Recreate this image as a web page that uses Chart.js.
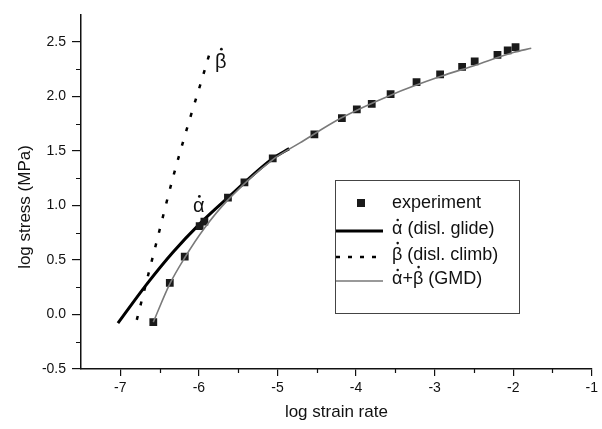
<!DOCTYPE html>
<html>
<head>
<meta charset="utf-8">
<script src="https://cdn.jsdelivr.net/npm/chart.js@4.4.0/dist/chart.umd.min.js"></script>
<style>
  html, body { margin: 0; padding: 0; background: #fff; }
</style>
</head>
<body>
<canvas id="chart" width="602" height="429"></canvas>
<script>
const FONT = '"Liberation Sans", Arial, sans-serif';

// experiment (squares)
const expX = [-6.58, -6.37, -6.18, -5.99, -5.93, -5.63, -5.42, -5.06, -4.53, -4.18, -3.99, -3.80, -3.56, -3.23, -2.93, -2.65, -2.49, -2.20, -2.07, -1.97];
const expY = [-0.07, 0.29, 0.53, 0.81, 0.85, 1.07, 1.21, 1.43, 1.65, 1.80, 1.88, 1.93, 2.02, 2.13, 2.20, 2.27, 2.32, 2.38, 2.42, 2.45];

// alpha dot (disl. glide)
const glideX = [-7.03, -6.66, -6.33, -5.99, -5.63, -5.06, -4.85];
const glideY = [-0.08, 0.28, 0.57, 0.83, 1.07, 1.43, 1.52];

// beta dot (disl. climb)
const climbX = [-6.79, -6.54, -6.32, -6.12, -5.98, -5.84];
const climbY = [-0.05, 0.66, 1.28, 1.78, 2.11, 2.45];

// alpha + beta (GMD)
const gmdX = [-6.58, -6.37, -6.18, -5.93, -5.63, -5.06, -4.72, -4.19, -3.56, -2.93, -2.5, -2.0, -1.77];
const gmdY = [-0.07, 0.28, 0.52, 0.79, 1.05, 1.42, 1.57, 1.80, 2.01, 2.18, 2.28, 2.40, 2.44];

const xTicks = [-7, -6, -5, -4, -3, -2, -1];
const yTicks = [-0.5, 0, 0.5, 1, 1.5, 2, 2.5];
const xMinor = [-6.5, -5.5, -4.5, -3.5, -2.5, -1.5];
const yMinor = [-0.25, 0.25, 0.75, 1.25, 1.75, 2.25];

// "\u0307" marks a dot over the char before it (drawn by hand, fonts place it badly)
const DOT = "\u0307";
const legendLabels = ["experiment", "\u03B1" + DOT + " (disl. glide)", "\u03B2" + DOT + " (disl. climb)", "\u03B1" + DOT + "+\u03B2" + DOT + " (GMD)"];
const yTitle = "log stress (MPa)";
const xTitle = "log strain rate";

function pts(xs, ys) {
  return xs.map((x, i) => ({ x: x, y: ys[i] }));
}

// draws text (left aligned, middle baseline) and puts dots over marked chars
function dottedText(ctx, text, x, y, size) {
  const plain = text.split(DOT).join("");
  ctx.fillText(plain, x, y);
  let prefix = "";
  for (let i = 0; i < text.length; i++) {
    const ch = text[i];
    if (ch === DOT) continue;
    if (text[i + 1] === DOT) {
      const x0 = ctx.measureText(prefix).width;
      const w = ctx.measureText(ch).width;
      const up = ch === "\u03B2" ? 0.66 : 0.5;
      ctx.beginPath();
      ctx.arc(x + x0 + w / 2 + 0.5, y - size * up, size * 0.07, 0, Math.PI * 2);
      ctx.fill();
    }
    prefix += ch;
  }
}

const extras = {
  id: "extras",
  afterDraw(chart) {
    const ctx = chart.ctx;
    const xs = chart.scales.x;
    const ys = chart.scales.y;
    const area = chart.chartArea;
    ctx.save();

    // minor ticks
    ctx.strokeStyle = "#111";
    ctx.lineWidth = 1.2;
    ctx.beginPath();
    xMinor.forEach((v) => {
      const px = Math.round(xs.getPixelForValue(v)) + 0.5;
      ctx.moveTo(px, area.bottom);
      ctx.lineTo(px, area.bottom + 4);
    });
    yMinor.forEach((v) => {
      const py = Math.round(ys.getPixelForValue(v)) + 0.5;
      ctx.moveTo(area.left, py);
      ctx.lineTo(area.left - 5, py);
    });
    ctx.stroke();

    // y title
    ctx.fillStyle = "#111";
    ctx.font = "17px " + FONT;
    ctx.textAlign = "center";
    ctx.textBaseline = "middle";
    ctx.translate(25, 207);
    ctx.rotate(-Math.PI / 2);
    ctx.fillText(yTitle, 0, 0);
    ctx.setTransform(1, 0, 0, 1, 0, 0);

    // curve labels
    ctx.font = "20px " + FONT;
    ctx.textAlign = "left";
    const a = "\u03B1" + DOT, b = "\u03B2" + DOT;
    const aw = ctx.measureText("\u03B1").width, bw0 = ctx.measureText("\u03B2").width;
    dottedText(ctx, a, xs.getPixelForValue(-6.0) - aw / 2, ys.getPixelForValue(0.99), 20);
    dottedText(ctx, b, xs.getPixelForValue(-5.72) - bw0 / 2, ys.getPixelForValue(2.31), 20);

    // legend box
    const bx = 335, by = 180, bw = 184, bh = 133;
    ctx.strokeStyle = "#444";
    ctx.lineWidth = 1;
    ctx.strokeRect(bx + 0.5, by + 0.5, bw, bh);

    const rowY = [203, 229, 255, 279];
    ctx.font = "18px " + FONT;
    ctx.fillStyle = "#111";
    legendLabels.forEach((t, i) => {
      dottedText(ctx, t, 392, rowY[i], 18);
    });

    // legend symbols
    ctx.fillStyle = "#1a1a1a";
    ctx.fillRect(357, rowY[0] - 4, 8, 8);

    ctx.strokeStyle = "#000";
    ctx.lineWidth = 3;
    ctx.beginPath();
    ctx.moveTo(336, rowY[1] + 2);
    ctx.lineTo(383, rowY[1] + 2);
    ctx.stroke();

    ctx.lineWidth = 2.5;
    ctx.setLineDash([4, 8]);
    ctx.beginPath();
    ctx.moveTo(336, rowY[2] + 2);
    ctx.lineTo(383, rowY[2] + 2);
    ctx.stroke();
    ctx.setLineDash([]);

    ctx.strokeStyle = "#777";
    ctx.lineWidth = 1.6;
    ctx.beginPath();
    ctx.moveTo(336, rowY[3] + 2);
    ctx.lineTo(383, rowY[3] + 2);
    ctx.stroke();

    ctx.restore();
  },
};

const chart = new Chart(document.getElementById("chart"), {
  type: "scatter",
  data: {
    datasets: [
      {
        label: "GMD",
        data: pts(gmdX, gmdY),
        showLine: true,
        borderColor: "#7a7a7a",
        borderWidth: 1.6,
        pointRadius: 0,
        cubicInterpolationMode: "monotone",
        order: 0,
      },
      {
        label: "experiment",
        data: pts(expX, expY),
        showLine: false,
        pointStyle: "rect",
        pointRadius: 5.5,
        backgroundColor: "#1a1a1a",
        borderColor: "#1a1a1a",
        borderWidth: 0,
        order: 1,
      },
      {
        label: "glide",
        data: pts(glideX, glideY),
        showLine: true,
        borderColor: "#000",
        borderWidth: 3,
        pointRadius: 0,
        cubicInterpolationMode: "monotone",
        order: 2,
      },
      {
        label: "climb",
        data: pts(climbX, climbY),
        showLine: true,
        borderColor: "#000",
        borderWidth: 2.5,
        borderDash: [4, 11],
        pointRadius: 0,
        cubicInterpolationMode: "monotone",
        order: 3,
      },
    ],
  },
  options: {
    responsive: false,
    animation: false,
    layout: { padding: { top: 13, right: 10, left: 0, bottom: 0 } },
    plugins: {
      legend: { display: false },
      tooltip: { enabled: false },
    },
    scales: {
      x: {
        type: "linear",
        min: -7.5,
        max: -1,
        afterBuildTicks: (s) => {
          s.ticks = xTicks.map((v) => ({ value: v }));
        },
        afterFit: (s) => {
          s.height = 60;
        },
        grid: { drawOnChartArea: false, tickLength: 7, color: "#111", lineWidth: 1.2 },
        border: { color: "#111", width: 1.5 },
        ticks: {
          font: { family: FONT, size: 14 },
          color: "#111",
          padding: 4,
          maxRotation: 0,
          callback: (v) => String(v),
        },
        title: {
          display: true,
          text: xTitle,
          color: "#111",
          font: { family: FONT, size: 17 },
          padding: { top: 0, bottom: 6 },
        },
      },
      y: {
        type: "linear",
        min: -0.5,
        max: 2.75,
        afterBuildTicks: (s) => {
          s.ticks = yTicks.map((v) => ({ value: v }));
        },
        afterFit: (s) => {
          s.width = 81;
        },
        grid: { drawOnChartArea: false, tickLength: 9, color: "#111", lineWidth: 1.2 },
        border: { color: "#111", width: 1.5 },
        ticks: {
          font: { family: FONT, size: 14 },
          color: "#111",
          padding: 6,
          callback: (v) => v.toFixed(1),
        },
      },
    },
  },
  plugins: [extras],
});
</script>
</body>
</html>
